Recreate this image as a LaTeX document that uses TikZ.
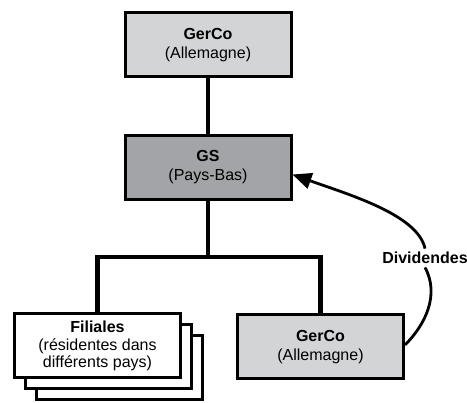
\documentclass[tikz,border=0pt]{standalone}
\usepackage{fontspec}
\setmainfont{Liberation Sans}
\usetikzlibrary{arrows.meta}
\definecolor{lightbox}{HTML}{D3D4D6}
\definecolor{darkbox}{HTML}{A3A4A8}
\begin{document}
\begin{tikzpicture}[x=1pt, y=-1pt,
    entity/.style={draw, line width=3pt, minimum width=166pt, minimum height=64pt,
      align=center, font=\fontsize{16}{19}\selectfont, inner sep=2pt},
    link/.style={line width=4.3pt},
    flow/.style={line width=2.8pt, -{Triangle[length=19pt, width=16pt]}}]
    \useasboundingbox (0,0) rectangle (467,403);
    \node[entity, fill=lightbox] (gerco) at (208,45) {\textbf{GerCo}\\(Allemagne)};
    \node[entity, fill=darkbox] (gs) at (208,167.5) {\textbf{GS}\\(Pays-Bas)};
    \node[entity, fill=lightbox] (ger2) at (320.5,347) {\textbf{GerCo}\\(Allemagne)};
    \node[entity, fill=white] (fil3) at (119.5,368) {};
    \node[entity, fill=white] (fil2) at (108.5,357) {};
    \node[entity, fill=white, font=\fontsize{16}{17.5}\selectfont] (fil) at (97.5,346)
      {\textbf{Filiales}\\(résidentes dans\\différents pays)};
    \coordinate (fork) at (208,257);
    \draw[link] (gerco) -- (gs);
    \draw[link] (gs) -- (fork);
    \draw[link] (fork) -| (fil);
    \draw[link] (fork) -| (ger2);
    \node[font=\fontsize{16}{19}\selectfont\bfseries] (div) at (425,258) {Dividendes};
    \draw[line width=2.8pt] ([yshift=2pt]ger2.east) .. controls (425,325) and (440,295) .. (div.south);
    \draw[flow] (div.north) .. controls (418,215) and (350,195) .. ([yshift=-7pt]gs.east);
\end{tikzpicture}
\end{document}
